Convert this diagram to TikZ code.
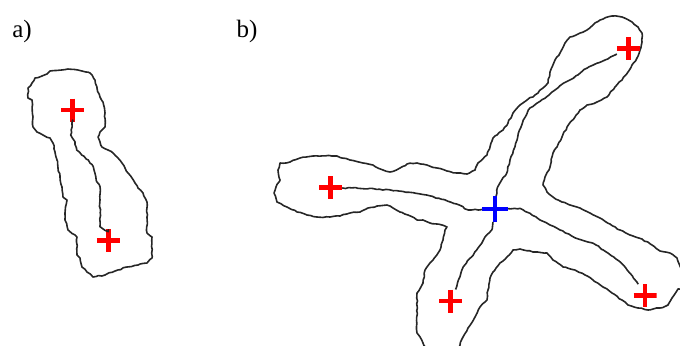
\documentclass[tikz,border=0pt]{standalone}
\usepackage{fontspec}
\setmainfont{Liberation Serif}
\usetikzlibrary{decorations.pathmorphing}
\tikzset{
  contour/.style={draw=black!85, line width=0.8pt, line join=round,
    decorate, decoration={random steps, segment length=1.6pt, amplitude=0.3pt}},
  skel/.style={contour},
  plusmark/.style={minimum size=11.5pt, inner sep=0pt, outer sep=0pt,
    path picture={\draw[#1, line width=2.4pt]
      (path picture bounding box.north) -- (path picture bounding box.south)
      (path picture bounding box.west) -- (path picture bounding box.east);}},
  endpt/.style={plusmark=red},
  hubpt/.style={plusmark=blue, minimum size=13pt},
  panel/.style={font=\fontsize{12.5}{14}\selectfont}
}
\begin{document}
\begin{tikzpicture}[x=0.5pt, y=-0.5pt]
		\pgfmathsetseed{11}
		\useasboundingbox (0,0) rectangle (680,345);
		\clip (0,0) rectangle (680,345);
		
		%%%%% a) %%%%%
		\node[panel] (lbla) at (22,31) {a)};
		
		\draw[contour] (50,71) -- (68,69) -- (82,71) -- (90,73) -- (95,80) -- (97,88) -- (100,97)
		  -- (103,102) -- (105,113) -- (105,127) -- (100,132) -- (98,137) -- (100,142) -- (102,147)
		  -- (108,150) -- (113,153) -- (118,158) -- (122,163) -- (125,168) -- (128,173) -- (132,178)
		  -- (135,183) -- (138,188) -- (143,193) -- (147,202) -- (147,217) -- (147,233) -- (152,237)
		  -- (152,258) -- (147,263) -- (138,265) -- (127,267) -- (115,271) -- (105,275) -- (93,277)
		  -- (87,272) -- (82,267) -- (80,258) -- (77,255) -- (77,237) -- (68,230) -- (65,220)
		  -- (65,213) -- (67,200) -- (63,197) -- (62,187) -- (60,177) -- (58,168) -- (57,160)
		  -- (55,152) -- (53,143) -- (50,138) -- (43,135) -- (37,132) -- (33,127) -- (33,117)
		  -- (32,100) -- (28,98) -- (28,88) -- (32,83) -- (35,78) -- (42,76) -- (47,74) -- cycle;
		
		\node[endpt] (a1) at (72.7,110) {};
		\node[endpt] (a2) at (108.3,240.7) {};
		\draw[skel] (a1) -- (72.7,120) -- (70.7,135) -- (75,141.7) -- (76.7,150) -- (81.7,155)
		  -- (88.3,160) -- (93.3,166.7) -- (95,173.3) -- (96.7,181.7) -- (100,186.7) -- (100,200)
		  -- (100,226.7) -- (108.3,231.7) -- (a2);
		
		%%%%% b) %%%%%
		\node[panel] (lblb) at (247,31) {b)};
		
		\draw[contour] (426,348) -- (423,343) -- (417,333) -- (417,293) -- (423,283) -- (425,270)
		  -- (433,260) -- (440,250) -- (443,240) -- (445,230) -- (447,227) -- (442,225) -- (430,223)
		  -- (423,220) -- (417,220) -- (408,215) -- (400,212) -- (393,208) -- (387,205) -- (377,206)
		  -- (368,208) -- (360,212) -- (350,213) -- (340,216) -- (330,217) -- (317,217) -- (307,215)
		  -- (297,212) -- (287,207) -- (277,202) -- (274,193) -- (276,187) -- (280,180) -- (278,170)
		  -- (280,163) -- (290,162) -- (300,158) -- (313,156) -- (337,156) -- (350,160) -- (363,163)
		  -- (373,165) -- (383,170) -- (390,172) -- (400,168) -- (407,164) -- (417,163) -- (427,165)
		  -- (437,168) -- (447,171) -- (457,173) -- (467,174) -- (475,170) -- (478,163) -- (487,155)
		  -- (490,147) -- (493,138) -- (497,135) -- (503,130) -- (508,123) -- (513,113) -- (518,107)
		  -- (527,100) -- (535,95) -- (543,88) -- (548,83) -- (550,72) -- (555,60) -- (560,53)
		  -- (565,43) -- (570,37) -- (580,33) -- (587,30) -- (593,25) -- (600,20) -- (612,16)
		  -- (622,17) -- (632,22) -- (638,27) -- (642,33) -- (642,42) -- (640,50) -- (637,58)
		  -- (632,65) -- (628,72) -- (622,80) -- (615,87) -- (607,97) -- (597,102) -- (587,105)
		  -- (580,110) -- (575,117) -- (567,127) -- (562,137) -- (557,147) -- (553,153) -- (550,167)
		  -- (545,177) -- (543,185) -- (547,192) -- (553,197) -- (562,202) -- (570,205) -- (580,208)
		  -- (590,213) -- (600,218) -- (610,224) -- (620,230) -- (630,235) -- (642,239) -- (652,245)
		  -- (660,251) -- (670,253) -- (677,258) -- (680,266) -- (686,278) -- (684,288) -- (678,289)
		  -- (672,298) -- (668,305) -- (660,308) -- (648,310) -- (638,308) -- (628,305) -- (622,300)
		  -- (612,293) -- (603,287) -- (593,280) -- (585,275) -- (575,270) -- (563,267) -- (553,260)
		  -- (547,253) -- (533,252) -- (520,249) -- (513,250) -- (507,257) -- (500,263) -- (493,272)
		  -- (490,278) -- (488,290) -- (487,300) -- (480,307) -- (475,317) -- (468,328) -- (463,337)
		  -- (460,345) -- (459,348);
		
		\node[hubpt] (hub) at (495,209) {};
		\node[endpt] (armL) at (330.7,187.7) {};
		\node[endpt] (armTR) at (628.3,48.3) {};
		\node[endpt] (armBL) at (450.7,301) {};
		\node[endpt] (armBR) at (645,295.7) {};
		
		\draw[skel] (armL) -- (370,188.3) -- (393.3,190.7) -- (413.3,192.7) -- (426.7,195)
		  -- (441.7,199.3) -- (456.7,204) -- (468.3,210) -- (hub);
		\draw[skel] (hub) -- (496.7,190) -- (501.7,180) -- (506.7,173.3) -- (510,160) -- (515,146.7)
		  -- (518.3,133.3) -- (523.3,120) -- (528.3,110) -- (536.7,103.3) -- (546.7,96.7) -- (555,90)
		  -- (563.3,83.3) -- (573.3,78.3) -- (581.7,71.7) -- (586.7,68.3) -- (596.7,63.3) -- (605,60)
		  -- (615,55) -- (armTR);
		\draw[skel] (hub) -- (491.7,230) -- (486.7,235) -- (481.7,243.3) -- (476.7,250) -- (470,258.3)
		  -- (463.3,266.7) -- (460,276.7) -- (456.7,286.7) -- (armBL);
		\draw[skel] (hub) -- (520,208.3) -- (530,213.3) -- (540,220) -- (550,225) -- (560,230)
		  -- (571.7,236) -- (581.7,240) -- (593.3,243.3) -- (603.3,250) -- (613.3,256.7) -- (623.3,265)
		  -- (630,273.3) -- (636.7,281.7) -- (armBR);
	\end{tikzpicture}
\end{document}
